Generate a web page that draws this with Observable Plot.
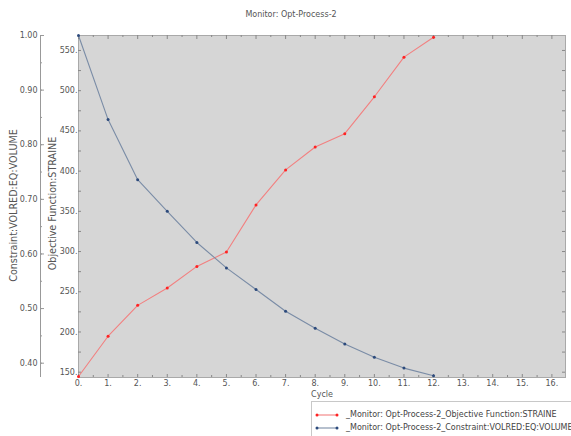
<!DOCTYPE html>
<html><head><meta charset="utf-8">
<script src="https://cdn.jsdelivr.net/npm/d3@7"></script>
<script src="https://cdn.jsdelivr.net/npm/@observablehq/plot@0.6"></script>
<style>
body{margin:0;background:#fff;font-family:"DejaVu Sans",Verdana,sans-serif;}
#wrap{position:relative;width:571px;height:436px;overflow:hidden;}
#chart{position:absolute;left:0;top:0;}
#title{position:absolute;left:0;width:582px;top:10px;text-align:center;font-size:8px;color:#555;}
#legend{position:absolute;left:311px;top:401px;width:280px;height:40px;border:1px solid #c8c8c8;background:#fff;font-size:8px;color:#444;}
.row{position:absolute;left:0;height:12px;white-space:nowrap;}
.row svg{position:absolute;left:2px;top:0;}
.row span{position:absolute;left:34px;top:0;line-height:12px;}
</style></head><body>
<div id="wrap"><div id="chart"></div><div id="title">Monitor: Opt-Process-2</div><div id="legend"></div></div>
<script>
const cycles = [0,1,2,3,4,5,6,7,8,9,10,11,12];
const straine = [144.7,194.7,233.1,254.7,281.5,299.4,358,401.5,430,446.5,492.4,541.7,566.5];
const volume = [1.00,0.846,0.736,0.678,0.621,0.5745,0.535,0.495,0.464,0.435,0.411,0.391,0.377];
const xTicks = d3.range(0,17);
const straineTicks = [150,200,250,300,350,400,450,500,550];
const volumeTicks = [0.40,0.50,0.60,0.70,0.80,0.90,1.00];
const seriesNames = ["_Monitor: Opt-Process-2_Objective Function:STRAINE","_Monitor: Opt-Process-2_Constraint:VOLRED:EQ:VOLUME"];
const lineColors = ["#f28080","#7a8ca6"];
const dotColors = ["#ff2222","#2c4a7c"];

const W = 571, H = 400, mt = 35, mb = 23, ml = 78, mr = 6;
const pw = W - ml - mr, ph = H - mt - mb;
const yDomain = [143.4, 568.6];
const vDomain = [0.3738, 1.0];
const v2s = d3.scaleLinear(vDomain, yDomain);
const s2v = v2s.invert;

const rows = cycles.map((c,i)=>({cycle:c, straine:straine[i], volume:volume[i]}));
const xMinor = d3.range(0.5,16.5,1);
const sMinor = d3.range(150,575,25);
const vMinor = d3.range(0.40,1.001,0.05).map(v=>+v.toFixed(2));
const tickCol = "#888";
const font = '"DejaVu Sans",Verdana,sans-serif';

const chart = Plot.plot({
  width: W, height: H, marginTop: mt, marginBottom: mb, marginLeft: ml, marginRight: mr,
  style: {fontFamily: font, fontSize: "8px", color: "#555", background: "transparent"},
  x: {domain: [0, 16.46]},
  y: {domain: yDomain},
  marks: [
    Plot.frame({fill: "#d6d6d6", stroke: "#a9a9a9"}),
    // top ticks
    Plot.ruleX(xTicks, {x: d=>d, insetBottom: ph-4, stroke: tickCol}),
    Plot.ruleX(xMinor, {x: d=>d, insetBottom: ph-2, stroke: tickCol}),
    // bottom ticks
    Plot.ruleX(xTicks, {x: d=>d, insetTop: ph-3, stroke: tickCol}),
    Plot.ruleX(xMinor, {x: d=>d, insetTop: ph-2, stroke: tickCol}),
    // left inner / right ticks
    Plot.ruleY(sMinor, {y: d=>d, insetRight: pw-3, stroke: tickCol}),
    Plot.ruleY(sMinor, {y: d=>d, insetLeft: pw-3, stroke: tickCol}),
    Plot.axisX(xTicks, {tickFormat: d=>d+".", tickSize: 0, tickPadding: 3, label: null, fill: "#555"}),
    Plot.axisY(straineTicks, {tickFormat: d=>d+".", tickSize: 0, tickPadding: 1, label: null, fill: "#555"}),
    // outer volume axis
    Plot.ruleX([0], {x: d=>d, dx: -38, stroke: "#999"}),
    Plot.ruleY(volumeTicks.map(v2s), {y: d=>d, dx: -38, insetRight: pw-4, stroke: "#999"}),
    Plot.ruleY(vMinor.map(v2s), {y: d=>d, dx: -38, insetRight: pw-2, stroke: "#999"}),
    Plot.axisY(volumeTicks.map(v2s), {tickFormat: d=>s2v(d).toFixed(2), tickSize: 0, tickPadding: 41, label: null, fill: "#555"}),
    // axis labels
    Plot.text(["Constraint:VOLRED:EQ:VOLUME"], {text: d=>d, frameAnchor: "left", textAnchor: "middle", rotate: -90, dx: -65, dy: -1, fontSize: 9.6, fill: "#555"}),
    Plot.text(["Objective Function:STRAINE"], {text: d=>d, frameAnchor: "left", textAnchor: "middle", rotate: -90, dx: -26, dy: -3, fontSize: 9.6, fill: "#555"}),
    Plot.text(["Cycle"], {text: d=>d, frameAnchor: "bottom", dy: 19, fill: "#555"}),
    // series
    Plot.line(rows, {x: "cycle", y: "straine", stroke: lineColors[0], strokeWidth: 1.1}),
    Plot.line(rows, {x: "cycle", y: d=>v2s(d.volume), stroke: lineColors[1], strokeWidth: 1.1}),
    Plot.dot(rows, {x: "cycle", y: "straine", r: 1.5, fill: dotColors[0]}),
    Plot.dot(rows, {x: "cycle", y: d=>v2s(d.volume), r: 1.5, fill: dotColors[1]})
  ]
});
document.getElementById("chart").appendChild(chart);

const leg = document.getElementById("legend");
seriesNames.forEach((name,i)=>{
  const row = document.createElement("div");
  row.className = "row";
  row.style.top = (7 + i*13) + "px";
  row.innerHTML = `<svg width="26" height="12"><line x1="3" y1="6" x2="23" y2="6" stroke="${lineColors[i]}" stroke-width="1.1"/><circle cx="3" cy="6" r="1.5" fill="${dotColors[i]}"/><circle cx="23" cy="6" r="1.5" fill="${dotColors[i]}"/></svg><span>${name}</span>`;
  leg.appendChild(row);
});
</script>
</body></html>
